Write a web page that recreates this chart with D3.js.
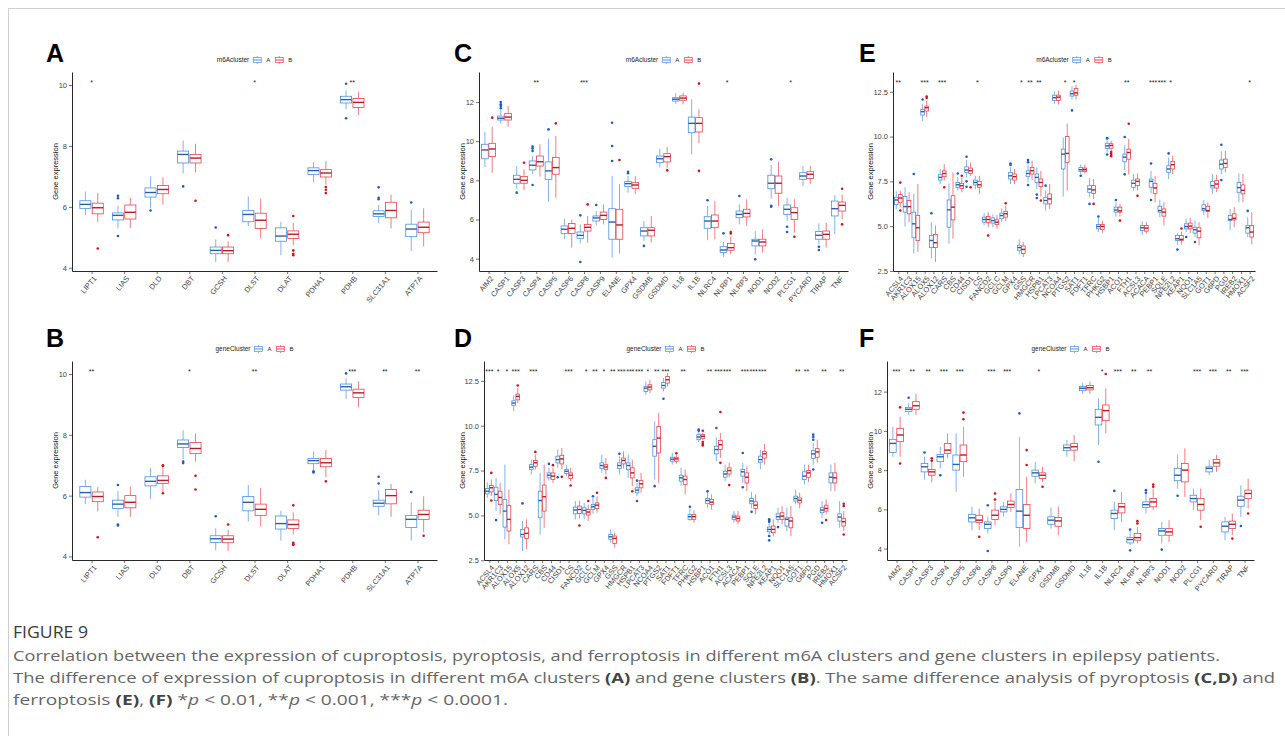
<!DOCTYPE html>
<html>
<head>
<meta charset="utf-8">
<script src="https://cdn.jsdelivr.net/npm/d3@7"></script>
<style>
  body { margin: 0; background: #fff; }
  svg { display: block; }
</style>
</head>
<body>
<div id="fig"></div>
<script>
// ---- data: each box is [lowWhisker, q1, median, q3, highWhisker, [outliers]] ----
const cuproGenes = ["LIPT1", "LIAS", "DLD", "DBT", "GCSH", "DLST", "DLAT", "PDHA1", "PDHB", "SLC31A1", "ATP7A"];

const cuproM6aA = [
  [5.72, 5.95, 6.08, 6.2, 6.5, []],
  [5.29, 5.57, 5.72, 5.8, 6.04, [6.36, 6.28, 5.04]],
  [5.95, 6.32, 6.47, 6.62, 7.0, [5.88]],
  [7.1, 7.44, 7.72, 7.83, 8.18, [6.67]],
  [4.19, 4.46, 4.57, 4.68, 4.93, [5.32]],
  [5.37, 5.51, 5.75, 5.88, 6.34, []],
  [4.41, 4.87, 5.04, 5.31, 5.51, []],
  [6.8, 7.06, 7.19, 7.28, 7.47, []],
  [9.21, 9.41, 9.52, 9.63, 9.82, [10.04, 8.91]],
  [5.46, 5.68, 5.77, 5.87, 6.06, [6.64, 6.3, 6.25]],
  [4.55, 5.02, 5.27, 5.43, 5.9, [6.14]]
];
const cuproM6aB = [
  [5.5, 5.77, 5.97, 6.12, 6.45, [4.63]],
  [5.3, 5.6, 5.82, 6.06, 6.3, []],
  [6.07, 6.43, 6.57, 6.7, 6.97, []],
  [7.13, 7.44, 7.6, 7.72, 8.07, [6.2]],
  [4.19, 4.46, 4.56, 4.68, 4.87, [5.07]],
  [4.96, 5.29, 5.56, 5.79, 6.26, []],
  [4.74, 4.96, 5.1, 5.21, 5.48, [5.7, 4.57, 4.46, 4.41]],
  [6.73, 6.98, 7.11, 7.22, 7.5, [6.65, 6.56, 6.45]],
  [9.01, 9.26, 9.43, 9.56, 9.78, []],
  [5.29, 5.64, 5.88, 6.15, 6.4, []],
  [4.7, 5.15, 5.33, 5.5, 5.95, []]
];
const cuproStarsM6a = ["*", "", "", "", "", "*", "", "", "**", "", ""];

const cuproGeneA = [
  [5.72, 5.95, 6.1, 6.3, 6.52, []],
  [5.3, 5.58, 5.72, 5.85, 6.15, [6.35, 5.05, 5.02]],
  [5.88, 6.32, 6.47, 6.62, 6.92, []],
  [7.2, 7.58, 7.7, 7.83, 8.15, [7.12, 7.07]],
  [4.2, 4.46, 4.58, 4.68, 4.92, [5.32]],
  [5.15, 5.5, 5.78, 5.97, 6.35, []],
  [4.52, 4.9, 5.08, 5.33, 5.5, []],
  [6.85, 7.05, 7.15, 7.22, 7.45, [6.8, 6.76]],
  [9.18, 9.47, 9.58, 9.67, 9.85, [10.02]],
  [5.35, 5.65, 5.75, 5.85, 6.18, [6.62, 6.4]],
  [4.52, 4.95, 5.22, 5.35, 5.78, [6.12]]
];
const cuproGeneB = [
  [5.48, 5.8, 5.97, 6.12, 6.28, [4.63]],
  [5.3, 5.6, 5.78, 6.0, 6.3, []],
  [6.1, 6.4, 6.5, 6.65, 6.92, [7.0, 6.97, 6.08]],
  [7.12, 7.38, 7.55, 7.75, 8.05, [6.65, 6.2]],
  [4.18, 4.45, 4.57, 4.68, 4.88, [5.05]],
  [4.98, 5.35, 5.55, 5.72, 6.25, []],
  [4.73, 4.92, 5.05, 5.2, 5.45, [5.68, 4.45, 4.4, 4.38]],
  [6.6, 6.95, 7.08, 7.22, 7.5, [6.47]],
  [8.9, 9.23, 9.38, 9.5, 9.76, []],
  [5.3, 5.73, 6.0, 6.2, 6.38, []],
  [4.8, 5.22, 5.38, 5.52, 5.98, [4.68]]
];
const cuproStarsGene = ["**", "", "", "*", "", "**", "", "", "***", "**", "**"];

const pyroGenes = ["AIM2", "CASP1", "CASP3", "CASP4", "CASP5", "CASP6", "CASP8", "CASP9", "ELANE", "GPX4", "GSDMB",
  "GSDMD", "IL18", "IL1B", "NLRC4", "NLRP1", "NLRP3", "NOD1", "NOD2", "PLCG1", "PYCARD", "TIRAP", "TNF"];

const pyroM6aA = [
  [8.68, 9.1, 9.55, 9.84, 10.47, []],
  [10.9, 11.08, 11.17, 11.28, 11.6, [12.0, 11.88, 11.8, 11.68]],
  [7.57, 7.85, 8.05, 8.26, 8.73, [7.37]],
  [8.31, 8.53, 8.77, 8.99, 9.24, [9.72, 9.62, 9.5, 7.76]],
  [6.91, 8.05, 8.48, 8.94, 10.13, [10.6]],
  [4.99, 5.29, 5.5, 5.67, 6.04, []],
  [4.78, 5.04, 5.19, 5.36, 5.75, [6.21, 3.83]],
  [5.7, 5.92, 6.08, 6.18, 6.43, [6.74]],
  [4.05, 4.99, 5.87, 6.55, 8.22, [10.94, 9.75, 8.99]],
  [7.37, 7.68, 7.83, 7.93, 8.22, [8.44, 8.36]],
  [4.9, 5.16, 5.41, 5.58, 5.92, [4.65]],
  [8.65, 8.9, 9.1, 9.24, 9.6, []],
  [11.9, 12.05, 12.14, 12.22, 12.44, []],
  [9.33, 10.43, 10.91, 11.23, 12.14, []],
  [4.94, 5.55, 5.92, 6.14, 6.69, [6.98]],
  [4.09, 4.31, 4.44, 4.61, 4.85, [5.29]],
  [5.75, 6.09, 6.26, 6.43, 6.77, [7.2]],
  [4.22, 4.65, 4.9, 4.99, 5.41, [3.97]],
  [7.06, 7.57, 7.85, 8.26, 8.8, [9.07, 6.7, 6.65]],
  [5.92, 6.26, 6.52, 6.74, 7.11, [5.63, 5.36]],
  [7.71, 8.05, 8.22, 8.39, 8.73, []],
  [4.73, 4.99, 5.19, 5.38, 5.8, [4.61, 4.44]],
  [5.25, 6.18, 6.55, 6.94, 7.25, []]
];
const pyroM6aB = [
  [8.39, 9.21, 9.6, 9.89, 10.74, [11.2]],
  [10.74, 11.08, 11.23, 11.42, 11.8, []],
  [7.49, 7.85, 8.0, 8.19, 8.56, [8.9]],
  [8.19, 8.73, 8.95, 9.24, 9.84, []],
  [7.1, 8.31, 8.65, 9.16, 10.26, [10.91]],
  [4.56, 5.28, 5.55, 5.79, 6.0, []],
  [4.82, 5.41, 5.6, 5.75, 6.18, [6.77]],
  [5.75, 6.0, 6.21, 6.38, 6.77, []],
  [4.26, 4.99, 5.72, 6.52, 7.8, [9.04]],
  [7.29, 7.59, 7.76, 7.88, 8.22, []],
  [4.82, 5.16, 5.45, 5.58, 6.18, []],
  [8.65, 8.94, 9.21, 9.36, 9.7, [8.51]],
  [11.88, 12.09, 12.2, 12.31, 12.48, []],
  [9.89, 10.47, 10.91, 11.2, 11.63, [12.94, 8.48]],
  [4.99, 5.58, 5.92, 6.23, 6.94, []],
  [4.22, 4.43, 4.56, 4.77, 5.12, [5.36, 5.28]],
  [5.67, 6.13, 6.31, 6.52, 7.03, []],
  [4.31, 4.65, 4.85, 4.99, 5.5, []],
  [6.69, 7.34, 7.85, 8.22, 8.94, []],
  [5.33, 6.0, 6.35, 6.6, 7.03, [5.12]],
  [7.8, 8.09, 8.31, 8.44, 8.73, []],
  [4.56, 4.99, 5.24, 5.41, 5.84, []],
  [6.0, 6.43, 6.72, 6.89, 7.28, [7.57, 5.75]]
];
const pyroStarsM6a = ["", "", "", "**", "", "", "***", "", "", "", "", "", "", "", "", "*", "", "", "", "*", "", "", ""];

const pyroGeneA = [
  [8.68, 8.9, 9.36, 9.57, 10.21, []],
  [10.81, 10.98, 11.1, 11.2, 11.4, [11.69]],
  [7.52, 7.91, 8.17, 8.34, 8.68, [8.9]],
  [8.09, 8.43, 8.68, 8.8, 9.19, [7.74]],
  [6.89, 8.0, 8.29, 8.77, 9.87, []],
  [4.94, 5.36, 5.57, 5.74, 6.13, []],
  [4.77, 5.02, 5.24, 5.36, 5.62, [6.21, 3.88]],
  [5.62, 5.87, 6.0, 6.13, 6.38, []],
  [4.09, 5.07, 5.91, 7.01, 9.7, [10.89]],
  [7.32, 7.69, 7.86, 8.0, 8.43, []],
  [5.02, 5.24, 5.45, 5.62, 6.09, []],
  [8.68, 8.99, 9.14, 9.28, 9.53, []],
  [11.88, 12.05, 12.17, 12.26, 12.46, []],
  [9.28, 10.3, 10.69, 11.1, 11.66, [8.43]],
  [4.94, 5.53, 5.79, 5.96, 6.38, [6.94]],
  [4.17, 4.29, 4.46, 4.56, 4.94, [4.97, 3.91]],
  [5.79, 6.09, 6.24, 6.38, 6.81, [6.98, 6.85]],
  [4.26, 4.68, 4.9, 5.02, 5.36, [3.95]],
  [7.06, 7.46, 7.74, 8.09, 8.77, [6.69]],
  [5.96, 6.38, 6.55, 6.72, 7.06, []],
  [7.74, 7.91, 8.09, 8.17, 8.51, []],
  [4.43, 4.85, 5.14, 5.36, 5.62, []],
  [5.62, 6.16, 6.47, 6.67, 7.23, [5.15]]
];
const pyroGeneB = [
  [8.68, 9.45, 9.79, 10.13, 10.72, [11.2, 8.34]],
  [10.81, 11.1, 11.28, 11.49, 11.9, []],
  [7.37, 7.74, 7.91, 8.03, 8.43, [8.6, 8.48]],
  [8.6, 8.85, 9.02, 9.36, 9.87, []],
  [7.66, 8.43, 8.77, 9.28, 10.21, [10.93, 10.59]],
  [4.94, 5.33, 5.45, 5.7, 6.04, [4.6]],
  [5.19, 5.48, 5.7, 5.96, 6.38, [6.81, 6.5]],
  [5.87, 6.09, 6.25, 6.42, 6.81, []],
  [4.34, 5.02, 5.7, 6.25, 7.66, [9.02, 8.26]],
  [7.4, 7.57, 7.74, 7.86, 8.17, [7.15]],
  [4.68, 5.14, 5.41, 5.58, 6.13, []],
  [8.46, 9.02, 9.19, 9.36, 9.79, []],
  [11.88, 12.09, 12.2, 12.31, 12.51, []],
  [9.87, 10.52, 11.03, 11.32, 12.17, [12.9]],
  [5.36, 5.82, 6.13, 6.3, 6.89, []],
  [4.26, 4.43, 4.56, 4.77, 5.11, [5.4, 5.28]],
  [5.96, 6.13, 6.38, 6.55, 7.06, [7.27, 7.15]],
  [4.34, 4.68, 4.85, 5.02, 5.45, []],
  [6.64, 7.4, 8.0, 8.34, 9.11, []],
  [5.45, 5.96, 6.25, 6.55, 7.06, [5.11]],
  [7.91, 8.2, 8.37, 8.54, 8.77, []],
  [4.68, 5.02, 5.24, 5.4, 5.79, [4.51]],
  [6.04, 6.55, 6.81, 6.98, 7.57, [5.79]]
];
const pyroStarsGene = ["***", "**", "**", "***", "***", "", "***", "***", "", "*", "", "", "", "*", "***", "**", "**", "", "", "***", "***", "**", "***"];

const ferroGenes = ["ACSL4", "AKR1C3", "ALOX15", "ALOX5", "ALOX12", "CARS", "CBS", "CD44", "CISD1", "CS", "FANCD2",
  "GCLC", "GCLM", "GPX4", "GSS", "HMGCR", "HSPB1", "LPCAT3", "NCOA4", "PTGS2", "SAT1", "FDFT1", "TFRC", "PHKG2",
  "HSBP1", "ACO1", "FTH1", "ACSL3", "ACACA", "PEBP1", "SQLE", "NFE2L2", "KEAP1", "NQO1", "SLC1A5", "GOT1", "G6PD",
  "PGD", "IREB2", "HMOX1", "ACSF2"];

const ferroM6aA = [
  [5.96, 6.2, 6.46, 6.61, 6.94, []],
  [4.98, 5.78, 6.09, 6.65, 7.17, []],
  [3.46, 4.35, 5.13, 5.78, 6.8, [7.91]],
  [10.87, 11.2, 11.39, 11.52, 11.83, [12.07]],
  [3.19, 3.8, 4.2, 4.48, 5.22, [5.72]],
  [7.35, 7.57, 7.72, 7.87, 8.19, []],
  [4.02, 4.94, 5.91, 6.46, 7.39, []],
  [6.98, 7.17, 7.31, 7.44, 7.75, [7.94]],
  [7.72, 8.0, 8.13, 8.31, 8.69, [8.87, 7.5, 7.2]],
  [7.07, 7.3, 7.44, 7.57, 7.81, []],
  [5.04, 5.22, 5.37, 5.5, 5.72, []],
  [4.94, 5.17, 5.31, 5.46, 5.65, []],
  [5.22, 5.41, 5.59, 5.72, 6.0, []],
  [7.35, 7.63, 7.81, 8.0, 8.28, [8.5, 8.41]],
  [3.43, 3.65, 3.8, 3.93, 4.26, []],
  [7.44, 7.78, 7.94, 8.09, 8.43, [8.69, 8.57, 7.3]],
  [7.07, 7.44, 7.72, 7.91, 8.28, [6.76, 6.57]],
  [5.87, 6.24, 6.43, 6.61, 7.0, [7.26]],
  [11.83, 12.02, 12.17, 12.31, 12.54, []],
  [6.65, 8.19, 9.02, 9.3, 9.94, []],
  [12.07, 12.26, 12.39, 12.54, 12.81, [11.46]],
  [7.91, 8.06, 8.15, 8.28, 8.45, [7.81]],
  [6.61, 6.89, 7.07, 7.26, 7.69, [6.24]],
  [4.67, 4.85, 4.98, 5.09, 5.45, [5.54]],
  [9.11, 9.33, 9.48, 9.63, 9.82, [9.92, 9.9, 9.0]],
  [5.54, 5.78, 5.9, 6.06, 6.33, [6.46]],
  [8.13, 8.59, 8.85, 9.02, 9.52, [9.98, 7.89]],
  [6.98, 7.17, 7.39, 7.57, 7.91, []],
  [4.5, 4.76, 4.91, 5.04, 5.28, []],
  [6.83, 7.17, 7.5, 7.63, 8.09, [8.5, 6.46]],
  [5.5, 5.78, 5.87, 6.11, 6.48, []],
  [7.63, 8.0, 8.19, 8.37, 8.83, [9.06]],
  [3.93, 4.2, 4.3, 4.48, 4.61, [3.69]],
  [4.67, 4.85, 4.98, 5.13, 5.41, [4.39]],
  [4.39, 4.61, 4.8, 4.94, 5.31, [4.11]],
  [5.63, 5.87, 5.97, 6.19, 6.46, []],
  [6.8, 7.13, 7.26, 7.5, 7.91, []],
  [7.91, 8.19, 8.46, 8.69, 9.17, [9.54, 7.57]],
  [4.78, 5.31, 5.37, 5.59, 5.96, []],
  [6.33, 6.89, 7.15, 7.44, 7.94, []],
  [4.39, 4.61, 4.91, 5.04, 5.5, [5.85]]
];
const ferroM6aB = [
  [6.05, 6.33, 6.57, 6.76, 6.98, [7.43, 5.87]],
  [5.22, 5.69, 6.09, 6.43, 6.89, []],
  [3.56, 4.2, 4.91, 5.59, 7.35, []],
  [11.09, 11.43, 11.61, 11.7, 11.98, [12.24, 12.15]],
  [3.0, 3.8, 4.07, 4.54, 5.04, []],
  [7.54, 7.76, 7.94, 8.09, 8.46, [7.17]],
  [4.3, 5.35, 6.06, 6.7, 8.0, []],
  [6.89, 7.11, 7.26, 7.39, 7.72, [7.81]],
  [7.81, 7.94, 8.09, 8.24, 8.56, [7.17]],
  [6.8, 7.17, 7.31, 7.5, 7.81, []],
  [4.94, 5.19, 5.37, 5.54, 5.78, [4.48]],
  [4.85, 5.09, 5.22, 5.35, 5.61, []],
  [5.28, 5.5, 5.69, 5.83, 6.15, [6.28]],
  [7.35, 7.57, 7.76, 7.91, 8.19, []],
  [3.28, 3.47, 3.7, 3.89, 4.11, []],
  [7.57, 7.91, 8.09, 8.28, 8.65, []],
  [6.65, 7.22, 7.44, 7.63, 8.09, [6.43]],
  [5.96, 6.24, 6.52, 6.8, 7.35, []],
  [11.79, 12.02, 12.2, 12.31, 12.57, []],
  [6.98, 8.56, 9.06, 10.0, 10.72, []],
  [12.07, 12.31, 12.44, 12.69, 12.89, []],
  [7.94, 8.04, 8.15, 8.24, 8.43, []],
  [6.52, 6.83, 7.02, 7.26, 7.63, [6.24]],
  [4.61, 4.81, 4.98, 5.09, 5.31, []],
  [9.25, 9.35, 9.5, 9.6, 9.76, [9.15, 9.06, 8.97, 8.9]],
  [5.54, 5.78, 5.85, 6.06, 6.24, [5.31]],
  [7.89, 8.74, 9.11, 9.3, 9.87, [10.72]],
  [6.98, 7.26, 7.5, 7.63, 7.94, [6.7]],
  [4.59, 4.72, 4.89, 5.04, 5.24, []],
  [6.33, 6.83, 7.13, 7.39, 7.81, []],
  [5.04, 5.56, 5.78, 5.96, 6.33, []],
  [7.91, 8.19, 8.43, 8.61, 8.93, []],
  [3.98, 4.2, 4.26, 4.48, 4.69, [4.87]],
  [4.61, 4.85, 5.0, 5.17, 5.46, []],
  [3.93, 4.35, 4.72, 4.91, 5.22, []],
  [5.46, 5.82, 5.87, 6.11, 6.33, []],
  [6.89, 7.13, 7.35, 7.54, 7.87, []],
  [8.0, 8.28, 8.5, 8.74, 9.2, []],
  [4.94, 5.35, 5.44, 5.69, 6.06, []],
  [6.33, 6.8, 7.0, 7.3, 7.91, []],
  [3.98, 4.39, 4.67, 5.04, 5.78, []]
];
const ferroStarsM6a = ["**", "", "", "***", "", "***", "", "", "", "*", "", "", "", "", "*", "**", "**", "", "", "*", "*",
  "", "", "", "", "", "**", "", "", "***", "***", "*", "", "", "", "", "", "", "", "", "*"];

const ferroGeneA = [
  [5.98, 6.2, 6.35, 6.5, 6.85, []],
  [5.24, 5.83, 6.17, 6.57, 7.09, [4.74]],
  [3.67, 4.35, 5.24, 5.89, 7.83, []],
  [10.8, 11.13, 11.26, 11.39, 11.69, []],
  [3.02, 3.8, 3.94, 4.22, 4.69, [5.67]],
  [7.28, 7.56, 7.69, 7.83, 8.11, []],
  [3.94, 4.87, 5.83, 6.35, 7.37, []],
  [6.94, 7.09, 7.24, 7.37, 7.65, [7.87]],
  [7.65, 7.93, 8.11, 8.3, 8.67, [7.13]],
  [7.19, 7.33, 7.46, 7.56, 7.8, []],
  [4.78, 5.09, 5.3, 5.46, 5.8, []],
  [4.78, 5.09, 5.28, 5.43, 5.7, []],
  [5.09, 5.33, 5.48, 5.61, 5.98, [6.07]],
  [7.37, 7.61, 7.78, 7.93, 8.39, []],
  [3.48, 3.67, 3.81, 3.94, 4.22, []],
  [7.28, 7.61, 7.78, 7.93, 8.3, [8.43]],
  [7.09, 7.56, 7.78, 7.93, 8.39, []],
  [6.07, 6.26, 6.41, 6.54, 6.81, [6.94, 5.8]],
  [11.72, 11.91, 12.09, 12.19, 12.46, []],
  [7.0, 8.3, 8.85, 9.22, 10.24, [6.63]],
  [11.91, 12.09, 12.24, 12.41, 12.65, [11.5]],
  [7.83, 8.02, 8.13, 8.24, 8.48, []],
  [6.63, 6.91, 7.09, 7.24, 7.65, []],
  [4.69, 4.78, 4.93, 5.06, 5.39, [5.48]],
  [9.09, 9.22, 9.37, 9.5, 9.65, [9.78, 9.72]],
  [5.43, 5.67, 5.83, 5.94, 6.31, [6.35]],
  [8.02, 8.43, 8.67, 8.85, 9.35, [9.87]],
  [6.91, 7.13, 7.31, 7.46, 7.83, []],
  [4.59, 4.78, 4.91, 5.02, 5.24, []],
  [6.81, 7.19, 7.43, 7.56, 7.93, [8.48, 6.57]],
  [5.39, 5.65, 5.8, 5.94, 6.31, [5.2]],
  [7.56, 7.96, 8.11, 8.3, 8.67, []],
  [3.94, 4.09, 4.22, 4.35, 4.6, [4.78, 4.7, 4.65, 3.85, 3.61]],
  [4.59, 4.78, 4.93, 5.09, 5.43, [4.35]],
  [4.13, 4.41, 4.78, 4.87, 5.43, []],
  [5.61, 5.8, 5.94, 6.07, 6.44, []],
  [6.72, 7.0, 7.19, 7.43, 7.83, []],
  [7.83, 8.17, 8.43, 8.61, 9.04, [9.5, 9.37, 9.22, 7.56]],
  [4.87, 5.15, 5.3, 5.43, 5.8, [4.59]],
  [6.35, 6.81, 7.13, 7.37, 7.83, []],
  [4.31, 4.69, 4.91, 5.09, 5.8, []]
];
const ferroGeneB = [
  [6.07, 6.31, 6.54, 6.67, 7.0, [7.37, 5.83]],
  [5.06, 5.61, 6.0, 6.35, 6.81, []],
  [3.39, 4.13, 4.78, 5.56, 6.44, []],
  [11.26, 11.44, 11.63, 11.76, 12.09, [12.24]],
  [3.11, 3.72, 4.0, 4.31, 4.78, []],
  [7.56, 7.74, 7.93, 8.06, 8.39, [8.54]],
  [4.31, 5.24, 6.04, 6.69, 7.83, []],
  [6.81, 7.0, 7.19, 7.37, 7.65, [7.8]],
  [7.56, 7.87, 8.15, 8.35, 8.76, [7.15]],
  [6.91, 7.06, 7.24, 7.37, 7.65, [6.67]],
  [4.83, 5.11, 5.33, 5.52, 5.83, [4.44]],
  [4.69, 5.02, 5.19, 5.33, 5.61, [5.8]],
  [5.15, 5.39, 5.57, 5.7, 6.07, [6.26]],
  [7.28, 7.56, 7.7, 7.83, 8.2, [7.09]],
  [3.2, 3.43, 3.72, 3.85, 4.04, []],
  [7.61, 7.87, 8.06, 8.2, 8.57, []],
  [6.63, 7.09, 7.37, 7.65, 8.11, [6.35]],
  [6.26, 6.54, 6.76, 6.94, 7.37, []],
  [11.81, 12.0, 12.15, 12.28, 12.56, []],
  [6.81, 8.48, 9.31, 9.96, 10.7, []],
  [12.19, 12.37, 12.56, 12.74, 12.93, []],
  [7.87, 8.02, 8.15, 8.24, 8.38, [8.46]],
  [6.17, 6.72, 7.0, 7.19, 7.56, []],
  [4.59, 4.78, 4.93, 5.06, 5.28, []],
  [9.2, 9.3, 9.41, 9.5, 9.62, [9.72, 9.09, 8.98, 8.9]],
  [5.33, 5.61, 5.74, 5.89, 6.17, []],
  [8.2, 8.67, 8.94, 9.17, 9.59, [10.76, 7.93]],
  [7.13, 7.31, 7.5, 7.65, 7.93, [6.69]],
  [4.5, 4.69, 4.83, 4.96, 5.24, []],
  [6.35, 6.81, 7.13, 7.37, 7.74, []],
  [5.06, 5.39, 5.57, 5.76, 6.17, []],
  [7.83, 8.2, 8.43, 8.57, 8.98, []],
  [3.85, 4.04, 4.22, 4.41, 4.78, []],
  [4.5, 4.78, 4.96, 5.15, 5.52, []],
  [3.85, 4.31, 4.69, 4.87, 5.52, []],
  [5.39, 5.7, 5.85, 5.98, 6.26, []],
  [6.87, 7.13, 7.37, 7.5, 7.83, []],
  [7.93, 8.24, 8.54, 8.72, 9.22, []],
  [5.06, 5.24, 5.39, 5.57, 5.89, [4.74]],
  [6.35, 6.81, 7.09, 7.37, 7.93, []],
  [4.13, 4.41, 4.65, 4.83, 5.24, [5.65, 5.52, 3.94]]
];
const ferroStarsGene = ["***", "*", "*", "***", "", "***", "", "", "", "***", "", "*", "**", "*", "**", "***", "***", "***", "*", "**", "***",
  "", "**", "", "", "**", "***", "***", "", "***", "***", "***", "", "", "", "**", "**", "", "**", "", "**"];

const captionLines = [
  [["Correlation between the expression of cuproptosis, pyroptosis, and ferroptosis in different m6A clusters and gene clusters in epilepsy patients.", ""]],
  [["The difference of expression of cuproptosis in different m6A clusters ", ""], ["(A)", "b"], [" and gene clusters ", ""], ["(B)", "b"],
   [". The same difference analysis of pyroptosis ", ""], ["(C,D)", "b"], [" and", ""]],
  [["ferroptosis ", ""], ["(E)", "b"], [", ", ""], ["(F)", "b"], [" *", ""], ["p", "i"], [" < 0.01, **", ""], ["p", "i"],
   [" < 0.001, ***", ""], ["p", "i"], [" < 0.0001.", ""]]
];

// ---- drawing ----
const colA = "#4a90e0", colB = "#e8424a";
const darkA = "#2a5fa6", darkB = "#b51c24";
const dotA = "#1d5cc4", dotB = "#d1121c";
const plotFont = "'Liberation Sans', Arial, sans-serif";

const svg = d3.select("#fig")
  .append("svg")
  .attr("width", 1285)
  .attr("height", 736);

svg.append("rect")
  .attr("x", 8.5).attr("y", 8.5)
  .attr("width", 1300).attr("height", 760)
  .attr("fill", "#fff")
  .attr("stroke", "#cfcfcf");

function legendKey(g, x, cy, c) {
  g.append("line").attr("x1", x + 4).attr("x2", x + 4).attr("y1", cy - 4).attr("y2", cy + 4)
    .attr("stroke", c).attr("stroke-width", 0.7);
  g.append("rect").attr("x", x).attr("y", cy - 2.5).attr("width", 8).attr("height", 5)
    .attr("fill", "#fff").attr("stroke", c).attr("stroke-width", 0.7);
  g.append("line").attr("x1", x).attr("x2", x + 8).attr("y1", cy).attr("y2", cy)
    .attr("stroke", c).attr("stroke-width", 1);
}

function drawPanel(p) {
  const g = svg.append("g").style("font-family", plotFont);

  const vals = p.a.concat(p.b).flatMap(d => [d[0], ...d[5]]);
  const lo = d3.min(vals);
  const pad = (p.starY - lo) * 0.05;
  const y = d3.scaleLinear().domain([lo - pad, p.starY + pad]).range([p.y1, p.y0]);
  const x = d3.scalePoint().domain(p.genes).range([p.x0, p.x1]).padding(0.6);
  const step = x.step();
  const bw = step * p.boxFrac;
  const off = step * p.offFrac;

  // y axis
  const ya = g.append("g")
    .attr("transform", `translate(${p.x0},0)`)
    .call(d3.axisLeft(y).tickValues(p.ticks).tickFormat(p.fmt).tickSize(3).tickSizeOuter(0).tickPadding(2));
  ya.select(".domain").attr("stroke", "#111").attr("stroke-width", 0.9);
  ya.selectAll(".tick line").attr("stroke", "#333").attr("stroke-width", 0.7);
  ya.selectAll("text").style("font-size", "7.5px").style("font-family", plotFont).attr("fill", "#444");

  // x axis
  const xa = g.append("g")
    .attr("transform", `translate(0,${p.y1})`)
    .call(d3.axisBottom(x).tickSize(3).tickSizeOuter(0));
  xa.select(".domain").attr("stroke", "#111").attr("stroke-width", 0.9);
  xa.selectAll(".tick line").attr("stroke", "#333").attr("stroke-width", 0.7);
  xa.selectAll("text")
    .attr("x", 0).attr("y", 0).attr("dy", "0.35em")
    .attr("transform", "translate(3,6) rotate(-50)")
    .style("text-anchor", "end")
    .style("font-size", "7.5px")
    .style("font-family", plotFont)
    .attr("fill", "#444");

  // boxes
  [[p.a, -off, colA, darkA, dotA], [p.b, off, colB, darkB, dotB]].forEach(([rows, dx, c, dk, dc]) => {
    const bg = g.append("g");
    rows.forEach((d, i) => {
      const cx = x(p.genes[i]) + dx;
      bg.append("line").attr("x1", cx).attr("x2", cx).attr("y1", y(d[0])).attr("y2", y(d[1]))
        .attr("stroke", c).attr("stroke-width", 0.8).attr("opacity", 0.85);
      bg.append("line").attr("x1", cx).attr("x2", cx).attr("y1", y(d[3])).attr("y2", y(d[4]))
        .attr("stroke", c).attr("stroke-width", 0.8).attr("opacity", 0.85);
      bg.append("rect")
        .attr("x", cx - bw / 2).attr("y", y(d[3]))
        .attr("width", bw).attr("height", y(d[1]) - y(d[3]))
        .attr("fill", "#fff").attr("stroke", c).attr("stroke-width", 0.8);
      bg.append("line").attr("x1", cx - bw / 2).attr("x2", cx + bw / 2).attr("y1", y(d[2])).attr("y2", y(d[2]))
        .attr("stroke", dk).attr("stroke-width", 1.4);
      d[5].forEach(v => {
        bg.append("circle").attr("cx", cx).attr("cy", y(v)).attr("r", 1.3).attr("fill", dc);
      });
    });
  });

  // significance stars
  g.selectAll(".star")
    .data(p.stars)
    .enter()
    .append("text")
    .attr("x", (d, i) => x(p.genes[i]))
    .attr("y", y(p.starY) + 3.5)
    .attr("text-anchor", "middle")
    .style("font-size", "7px")
    .attr("fill", "#222")
    .text(d => d);

  // y label
  g.append("text")
    .attr("transform", `translate(${p.ylabX},${(p.y0 + p.y1) / 2}) rotate(-90)`)
    .attr("text-anchor", "middle")
    .attr("dy", "0.35em")
    .style("font-size", "7.5px")
    .attr("fill", "#111")
    .text("Gene expression");

  // legend
  const lg = g.append("g");
  const t = lg.append("text").attr("x", 0).attr("y", p.legY).attr("dy", "0.35em")
    .style("font-size", "6.5px").attr("fill", "#222").text(p.legTitle);
  let lx = t.node().getComputedTextLength() + 4;
  [["A", colA], ["B", colB]].forEach(([lab, c]) => {
    legendKey(lg, lx, p.legY, c);
    lx += 13;
    const lt = lg.append("text").attr("x", lx).attr("y", p.legY).attr("dy", "0.35em")
      .style("font-size", "6px").attr("fill", "#222").text(lab);
    lx += lt.node().getComputedTextLength() + 5;
  });
  lg.attr("transform", `translate(${(p.x0 + p.x1) / 2 - (lx - 5) / 2},0)`);

  // panel letter
  svg.append("text")
    .attr("x", p.letterX).attr("y", p.letterY)
    .style("font-family", plotFont)
    .style("font-size", "25px")
    .style("font-weight", "bold")
    .attr("fill", "#000")
    .text(p.letter);
}

const fmtInt = d3.format("d");
const fmt1 = d3.format(".1f");

drawPanel({ letter: "A", letterX: 46, letterY: 62, genes: cuproGenes, a: cuproM6aA, b: cuproM6aB, stars: cuproStarsM6a,
  starY: 10.13, legTitle: "m6Acluster", legY: 60, x0: 72, x1: 437, y0: 72, y1: 271, ylabX: 55,
  ticks: [4, 6, 8, 10], fmt: fmtInt, boxFrac: 0.34, offFrac: 0.19 });
drawPanel({ letter: "B", letterX: 46, letterY: 347, genes: cuproGenes, a: cuproGeneA, b: cuproGeneB, stars: cuproStarsGene,
  starY: 10.13, legTitle: "geneCluster", legY: 349, x0: 72, x1: 437, y0: 361, y1: 560, ylabX: 55,
  ticks: [4, 6, 8, 10], fmt: fmtInt, boxFrac: 0.34, offFrac: 0.19 });
drawPanel({ letter: "C", letterX: 454, letterY: 62, genes: pyroGenes, a: pyroM6aA, b: pyroM6aB, stars: pyroStarsM6a,
  starY: 13.07, legTitle: "m6Acluster", legY: 60, x0: 479, x1: 848, y0: 72, y1: 271, ylabX: 462,
  ticks: [4, 6, 8, 10, 12], fmt: fmtInt, boxFrac: 0.42, offFrac: 0.23 });
drawPanel({ letter: "D", letterX: 454, letterY: 347, genes: ferroGenes, a: ferroGeneA, b: ferroGeneB, stars: ferroStarsGene,
  starY: 13.1, legTitle: "geneCluster", legY: 349, x0: 484, x1: 847, y0: 361, y1: 560, ylabX: 462,
  ticks: [2.5, 5, 7.5, 10, 12.5], fmt: fmt1, boxFrac: 0.42, offFrac: 0.23 });
drawPanel({ letter: "E", letterX: 859, letterY: 62, genes: ferroGenes, a: ferroM6aA, b: ferroM6aB, stars: ferroStarsM6a,
  starY: 13.1, legTitle: "m6Acluster", legY: 60, x0: 893, x1: 1255, y0: 72, y1: 271, ylabX: 870,
  ticks: [2.5, 5, 7.5, 10, 12.5], fmt: fmt1, boxFrac: 0.42, offFrac: 0.23 });
drawPanel({ letter: "F", letterX: 859, letterY: 347, genes: pyroGenes, a: pyroGeneA, b: pyroGeneB, stars: pyroStarsGene,
  starY: 13.1, legTitle: "geneCluster", legY: 349, x0: 887, x1: 1254, y0: 361, y1: 560, ylabX: 870,
  ticks: [4, 6, 8, 10, 12], fmt: fmtInt, boxFrac: 0.42, offFrac: 0.23 });

// ---- caption ----
const capFont = "'Open Sans', 'Noto Sans', sans-serif";
svg.append("text")
  .attr("x", 13).attr("y", 638)
  .style("font-family", capFont)
  .style("font-size", "16px")
  .attr("fill", "#3a3a3a")
  .attr("textLength", 75)
  .attr("lengthAdjust", "spacingAndGlyphs")
  .text("FIGURE 9");

const capWidths = [1207, 1262, 495];
captionLines.forEach((segs, li) => {
  const t = svg.append("text")
    .attr("x", 13).attr("y", 661 + li * 22)
    .style("font-family", capFont)
    .style("font-size", "15px")
    .attr("fill", "#666")
    .attr("textLength", capWidths[li])
    .attr("lengthAdjust", "spacingAndGlyphs");
  segs.forEach(([s, st]) => {
    const ts = t.append("tspan").text(s);
    if (st === "b") ts.style("font-weight", "bold").attr("fill", "#444");
    if (st === "i") ts.style("font-style", "italic");
  });
});
</script>
</body>
</html>
